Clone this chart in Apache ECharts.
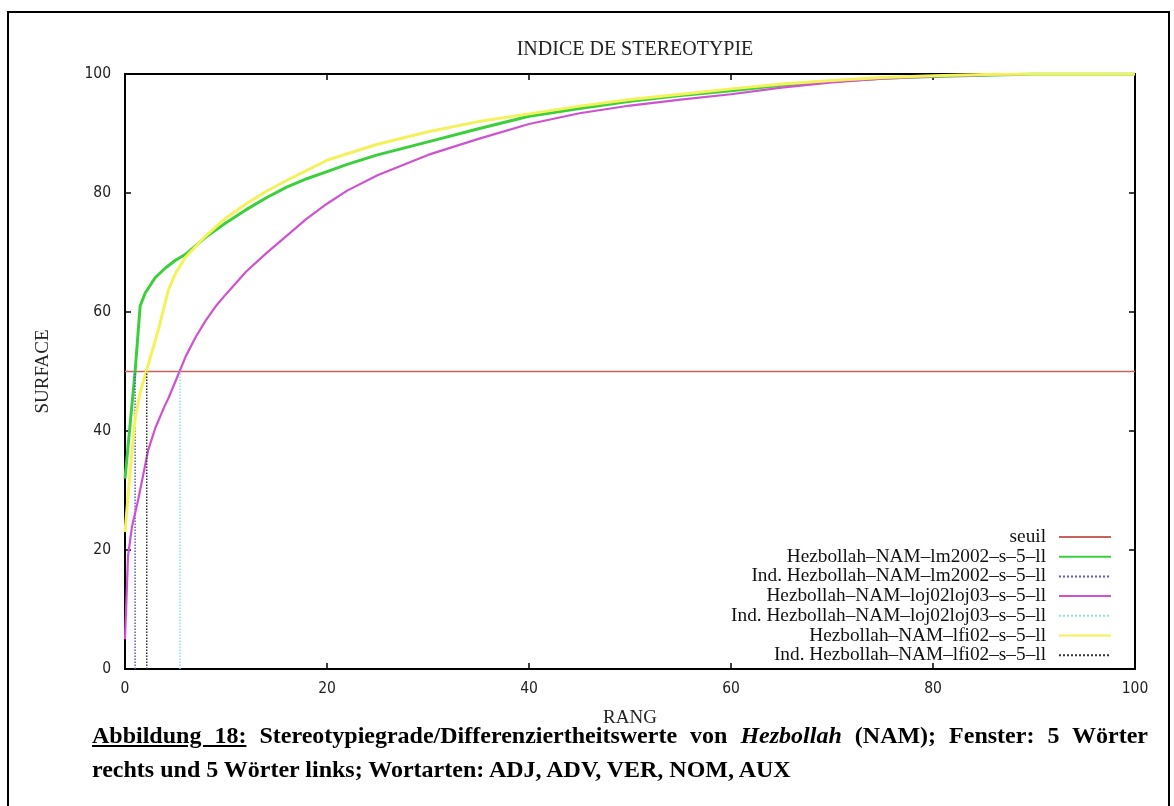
<!DOCTYPE html>
<html>
<head>
<meta charset="utf-8">
<script src="https://cdn.jsdelivr.net/npm/echarts@6/dist/echarts.min.js"></script>
<style>
  html, body { margin: 0; padding: 0; background: #fff; }
  #frame { position: absolute; left: 7px; top: 11px; width: 1159px; height: 800px; border: 2px solid #000; border-bottom: none; }
  #chart { position: absolute; left: 0; top: 0; width: 1174px; height: 806px; }
  .cap { position: absolute; left: 92px; width: 1056px; font-family: "Liberation Serif", "Times New Roman", serif; font-weight: bold; font-size: 24px; line-height: 28px; color: #000; white-space: nowrap; }
  #cap1 { top: 721px; text-align: justify; text-align-last: justify; }
  #cap2 { top: 755px; }
</style>
</head>
<body>
<div id="frame"></div>
<div id="chart"></div>
<div class="cap" id="cap1"><u>Abbildung 18:</u> Stereotypiegrade/Differenziertheitswerte von <i>Hezbollah</i> (NAM); Fenster: 5 Wörter</div>
<div class="cap" id="cap2">rechts und 5 Wörter links; Wortarten: ADJ, ADV, VER, NOM, AUX</div>
<script>
// rank (x) and surface (y)
var rangLm = [0, 0.5, 1, 1.5, 2, 3, 4, 5, 6, 8, 10, 12, 14, 16, 18, 20, 22, 25, 30, 35, 40, 45, 50, 55, 60, 65, 70, 75, 80, 85, 90, 100];
var surfLm = [32, 41, 50, 61, 63.2, 65.8, 67.4, 68.7, 69.7, 72.6, 75.0, 77.2, 79.2, 81.0, 82.4, 83.6, 84.8, 86.4, 88.6, 90.8, 92.9, 94.2, 95.4, 96.4, 97.2, 98.1, 98.8, 99.3, 99.6, 99.8, 100, 100];

var rangLoj = [0, 0.15, 0.3, 0.7, 1.3, 2.3, 3, 3.9, 4.3, 5.4, 6, 7, 8, 9, 10, 12, 14, 16, 18, 20, 22, 25, 30, 35, 40, 45, 50, 55, 60, 65, 70, 75, 80, 85, 90, 100];
var surfLoj = [5, 12, 19, 24, 28.4, 36.8, 40.5, 44.1, 45.5, 50, 52.5, 55.8, 58.6, 61.0, 63.0, 66.8, 69.9, 72.8, 75.7, 78.2, 80.4, 83.0, 86.4, 89.1, 91.6, 93.4, 94.7, 95.7, 96.6, 97.7, 98.6, 99.2, 99.6, 99.8, 100, 100];

var rangLfi = [0, 0.5, 1, 1.5, 2.1, 3.3, 4.3, 5, 6, 7, 8, 10, 12, 14, 16, 18, 20, 22, 25, 30, 35, 40, 45, 50, 55, 60, 65, 70, 75, 80, 85, 90, 100];
var surfLfi = [23, 33, 42, 46.5, 50, 57, 63.7, 66.5, 69.2, 71.0, 72.8, 75.8, 78.2, 80.3, 82.1, 83.8, 85.5, 86.6, 88.2, 90.3, 92.0, 93.3, 94.6, 95.7, 96.6, 97.5, 98.3, 98.9, 99.4, 99.7, 99.9, 100, 100];

var seuil = 50;
var indLm = 1.0;
var indLoj = 5.45;
var indLfi = 2.15;

var names = [
  'seuil',
  'Hezbollah–NAM–lm2002–s–5–ll',
  'Ind. Hezbollah–NAM–lm2002–s–5–ll',
  'Hezbollah–NAM–loj02loj03–s–5–ll',
  'Ind. Hezbollah–NAM–loj02loj03–s–5–ll',
  'Hezbollah–NAM–lfi02–s–5–ll',
  'Ind. Hezbollah–NAM–lfi02–s–5–ll'
];
var colors = ['#c8625c', '#3ccf3c', '#5a5ac8', '#d052d0', '#8fe0e0', '#f4f25a', '#333333'];

function pairs(xs, ys) {
  return xs.map(function(x, i) { return [x, ys[i]]; });
}

(function() {
  var serif = '"Liberation Serif", "Times New Roman", serif';
  var narrow = '"DejaVu Sans Condensed", "Liberation Sans Narrow", "DejaVu Sans", sans-serif';
  var chart = echarts.init(document.getElementById('chart'), null, { renderer: 'canvas' });

  var lines = [
    { data: [[0, seuil], [100, seuil]], width: 1.5, type: 'solid' },
    { data: pairs(rangLm, surfLm), width: 3, type: 'solid' },
    { data: [[indLm, 0], [indLm, seuil]], width: 1.5, type: 'dotted' },
    { data: pairs(rangLoj, surfLoj), width: 2.2, type: 'solid' },
    { data: [[indLoj, 0], [indLoj, seuil]], width: 1.5, type: 'dotted' },
    { data: pairs(rangLfi, surfLfi), width: 3, type: 'solid' },
    { data: [[indLfi, 0], [indLfi, seuil]], width: 1.5, type: 'dotted' }
  ];

  var series = lines.map(function(l, i) {
    return {
      name: names[i],
      type: 'line',
      data: l.data,
      symbol: 'none',
      animation: false,
      z: 2 + i,
      lineStyle: { color: colors[i], width: l.width, type: l.type },
      itemStyle: { color: colors[i] }
    };
  });

  var legends = names.map(function(n, i) {
    return {
      data: [n],
      orient: 'vertical',
      right: 62,
      top: 527 + i * 19.7,
      align: 'right',
      padding: 0,
      itemWidth: 52,
      itemHeight: 8,
      selectedMode: false,
      itemStyle: { opacity: 0 },
      textStyle: { fontFamily: serif, fontSize: 19.3, color: '#111', lineHeight: 20, padding: [0, 8, 0, 0] }
    };
  });

  var axisLine = { show: true, onZero: false, lineStyle: { color: '#000', width: 2 } };
  var axisTick = { show: true, inside: true, length: 6, lineStyle: { color: '#000', width: 1.5 } };
  var tickFont = { fontFamily: narrow, fontSize: 15.5, color: '#222' };

  chart.setOption({
    backgroundColor: 'transparent',
    title: {
      text: 'INDICE DE STEREOTYPIE',
      left: 630,
      top: 35,
      textAlign: 'center',
      textStyle: { fontFamily: serif, fontSize: 20, fontWeight: 'normal', color: '#222' }
    },
    legend: legends,
    grid: { left: 125, right: 39, top: 74, bottom: 137 },
    xAxis: [
      {
        type: 'value', min: 0, max: 100, interval: 20, position: 'bottom',
        name: 'RANG', nameLocation: 'middle', nameGap: 40,
        nameTextStyle: { fontFamily: serif, fontSize: 19, color: '#222' },
        axisLine: axisLine, axisTick: axisTick, splitLine: { show: false },
        axisLabel: Object.assign({ margin: 12 }, tickFont)
      },
      {
        type: 'value', min: 0, max: 100, interval: 20, position: 'top',
        axisLine: axisLine, axisTick: axisTick, splitLine: { show: false },
        axisLabel: { show: false }
      }
    ],
    yAxis: [
      {
        type: 'value', min: 0, max: 100, interval: 20, position: 'left',
        name: 'SURFACE', nameLocation: 'middle', nameGap: 72,
        nameTextStyle: { fontFamily: serif, fontSize: 19, color: '#222' },
        axisLine: axisLine, axisTick: axisTick, splitLine: { show: false },
        axisLabel: Object.assign({ margin: 14 }, tickFont)
      },
      {
        type: 'value', min: 0, max: 100, interval: 20, position: 'right',
        axisLine: axisLine, axisTick: axisTick, splitLine: { show: false },
        axisLabel: { show: false }
      }
    ],
    series: series
  });

  window.addEventListener('resize', function() { chart.resize(); });
})();
</script>
</body>
</html>
